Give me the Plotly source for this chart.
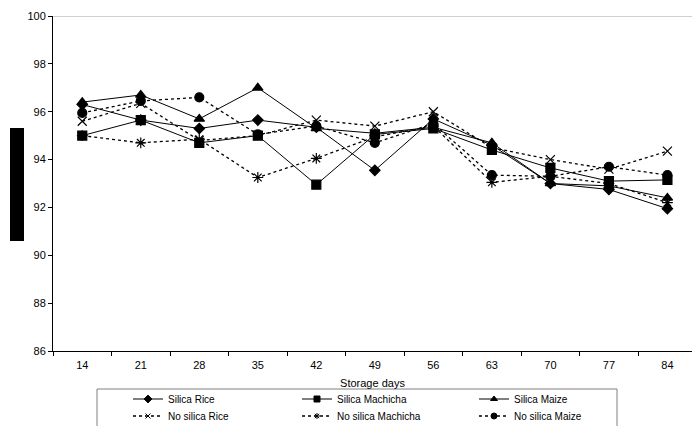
import plotly.graph_objects as go

days = [14, 21, 28, 35, 42, 49, 56, 63, 70, 77, 84]
silica_rice = [96.3, 95.65, 95.3, 95.65, 95.35, 93.55, 95.7, 94.6, 93.0, 92.75, 91.95]
silica_machicha = [95.0, 95.65, 94.7, 95.0, 92.95, 95.05, 95.3, 94.4, 93.65, 93.1, 93.15]
silica_maize = [96.4, 96.7, 95.7, 97.0, 95.3, 95.1, 95.35, 94.7, 93.0, 92.9, 92.4]
no_silica_rice = [95.6, 96.35, 94.8, 95.0, 95.65, 95.4, 96.0, 94.5, 94.0, 93.6, 94.35]
no_silica_machicha = [95.0, 94.7, 94.85, 93.25, 94.05, 94.95, 95.4, 93.05, 93.3, 93.0, 92.2]
no_silica_maize = [95.95, 96.45, 96.6, 95.05, 95.4, 94.7, 95.5, 93.35, 93.3, 93.7, 93.35]

x_labels = [str(d) for d in days]
y_ticks = [86, 88, 90, 92, 94, 96, 98, 100]

series = [
    ("Silica Rice", silica_rice, "solid", "diamond", 8),
    ("Silica Machicha", silica_machicha, "solid", "square", 9),
    ("Silica Maize", silica_maize, "solid", "triangle-up", 9),
    ("No silica Rice", no_silica_rice, "dot", "x-thin-open", 9),
    ("No silica Machicha", no_silica_machicha, "dot", "asterisk-open", 9),
    ("No silica Maize", no_silica_maize, "dot", "circle", 9),
]

W, H = 692, 426
L, R, T, B = 53, 0, 16, 75
PW, PH = W - L - R, H - T - B
col_text_x = [168, 337, 514]
row_y = [399, 416]

fig = go.Figure()
legend_layouts = {}
for i, (name, vals, dash, sym, size) in enumerate(series):
    key = "legend" if i == 0 else f"legend{i + 1}"
    lw = 1 if dash == "solid" else 1.3
    fig.add_trace(go.Scatter(
        x=x_labels, y=vals, name=name, mode="lines+markers",
        line=dict(color="black", width=lw, dash=dash),
        marker=dict(symbol=sym, size=size, color="black",
                    line=dict(color="black", width=1.2)),
        showlegend=False,
    ))
    # legend entry with smaller marker (no data)
    fig.add_trace(go.Scatter(
        x=[None], y=[None], name=name, mode="lines+markers",
        line=dict(color="black", width=lw, dash=dash),
        marker=dict(symbol=sym, size=5 if "x" in sym or "asterisk" in sym else 6,
                    color="black", line=dict(color="black", width=1)),
        legend=key, showlegend=True, hoverinfo="skip",
    ))
    col, row = i % 3, i // 3
    lx = col_text_x[col] - 40
    legend_layouts[key] = dict(
        x=(lx - L) / PW, y=(H - B - row_y[row]) / PH,
        xanchor="left", yanchor="middle",
        bgcolor="rgba(0,0,0,0)", borderwidth=0,
        font=dict(family="Liberation Sans, Arial, sans-serif", size=10, color="black"),
        itemclick=False, itemdoubleclick=False,
    )

font = dict(family="Liberation Sans, Arial, sans-serif", size=11, color="black")

fig.update_layout(
    width=W, height=H,
    margin=dict(l=L, r=R, t=T, b=B, autoexpand=False),
    paper_bgcolor="white", plot_bgcolor="white",
    font=font,
    xaxis=dict(
        type="category", range=[-0.5, 10.42],
        showline=True, linecolor="black", linewidth=1,
        ticks="outside", ticklen=4, tickcolor="black", tickson="boundaries",
        ticklabelstandoff=4,
        showgrid=False, zeroline=False,
        title=dict(text="Storage days", standoff=9, font=font),
        tickfont=font,
    ),
    yaxis=dict(
        range=[86, 100], tickvals=y_ticks,
        showline=True, linecolor="black", linewidth=1,
        ticks="outside", ticklen=4, tickcolor="black",
        showgrid=False, zeroline=False, tickfont=font,
    ),
    showlegend=True,
    shapes=[
        dict(type="line", xref="paper", yref="y", x0=0, x1=1, y0=100, y1=100,
             line=dict(color="#c0c0c0", width=1.5), layer="below"),
        dict(type="rect", xref="paper", yref="paper",
             x0=(97 - L) / PW, x1=(617 - L) / PW,
             y0=(H - B - 440) / PH, y1=(H - B - 389) / PH,
             line=dict(color="#808080", width=1), fillcolor="rgba(0,0,0,0)"),
        dict(type="rect", xref="paper", yref="paper",
             x0=(10 - L) / PW, x1=(24 - L) / PW,
             y0=(H - B - 241) / PH, y1=(H - B - 128) / PH,
             line=dict(width=0), fillcolor="black"),
    ],
    **legend_layouts,
)

fig.write_html("out.html")
